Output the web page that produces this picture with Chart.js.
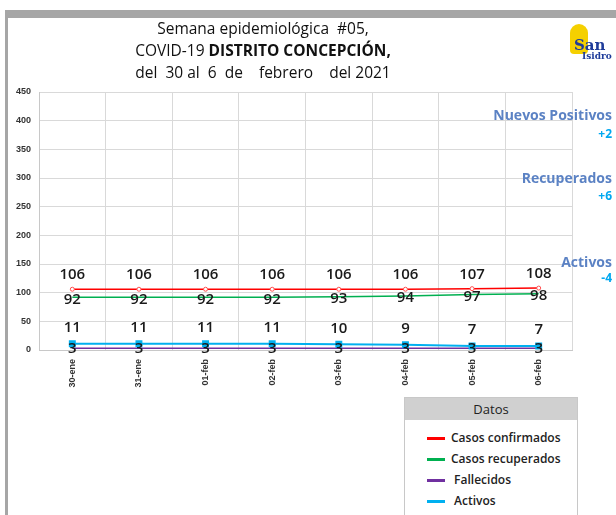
<!DOCTYPE html>
<html>
<head>
<meta charset="utf-8">
<script src="https://cdn.jsdelivr.net/npm/chart.js@4.4.1/dist/chart.umd.min.js"></script>
<style>
  body { margin: 0; background: #fff; font-family: "Open Sans", sans-serif; }
  #wrap { position: relative; width: 616px; height: 515px; overflow: hidden; }
  #topbar { position: absolute; left: 5px; top: 10px; width: 611px; height: 8px; background: #a6a6a6; }
  #leftbar { position: absolute; left: 5px; top: 10px; width: 3px; height: 505px; background: #a6a6a6; }
  canvas { position: absolute; left: 0; top: 0; }
  .title { position: absolute; left: 63px; width: 400px; text-align: center; font-size: 15.5px; color: #111; }
  .note { position: absolute; right: 4px; text-align: right; font-weight: bold; font-size: 14px; color: #5b82c4; }
  .delta { position: absolute; right: 4px; text-align: right; font-weight: bold; font-size: 12px; color: #00a8f0; }
  #legend { position: absolute; left: 404px; top: 397px; width: 172px; height: 130px; border: 1px solid #c8c8c8; background: #fff; }
  #legend .head { height: 22px; background: #d0d0d0; text-align: center; font-size: 13px; line-height: 22px; color: #222; }
  .item { position: absolute; left: 22px; font-size: 12px; font-weight: 600; color: #222; }
  .item span { display: inline-block; width: 18px; height: 3px; vertical-align: middle; margin-right: 6px; }
  #logo { position: absolute; left: 566px; top: 24px; width: 40px; height: 40px; }
</style>
</head>
<body>
<div id="wrap">
  <div id="topbar"></div>
  <div id="leftbar"></div>
  <canvas id="chart" width="616" height="515"></canvas>
  <div class="title" style="top:17px">Semana epidemiológica&nbsp; #05,</div>
  <div class="title" style="top:39px">COVID-19 <b>DISTRITO CONCEPCIÓN,</b></div>
  <div class="title" style="top:61px">del&nbsp; 30 al&nbsp; 6&nbsp; de&nbsp;&nbsp;&nbsp; febrero&nbsp;&nbsp;&nbsp; del 2021</div>
  <div id="logo">
    <div style="position:absolute;left:4px;top:0;width:18px;height:30px;border-radius:9px 9px 4px 4px;background:#f5d000;"></div>
    <div style="position:absolute;left:8px;top:12px;font:bold 15px 'DejaVu Serif',serif;color:#1f3c9a;">San</div>
    <div style="position:absolute;left:16px;top:27px;font:bold 9px 'DejaVu Serif',serif;color:#1f3c9a;">Isidro</div>
  </div>
  <div class="note" style="top:105px">Nuevos Positivos</div>
  <div class="delta" style="top:125px">+2</div>
  <div class="note" style="top:168px">Recuperados</div>
  <div class="delta" style="top:187px">+6</div>
  <div class="note" style="top:252px">Activos</div>
  <div class="delta" style="top:269px">-4</div>
  <div id="legend">
    <div class="head">Datos</div>
    <div class="item" style="top:31px"><span style="background:#ff0000"></span>Casos confirmados</div>
    <div class="item" style="top:52px"><span style="background:#00b050"></span>Casos recuperados</div>
    <div class="item" style="top:73px"><span style="background:#7030a0"></span> Fallecidos</div>
    <div class="item" style="top:94px"><span style="background:#00b0f0"></span> Activos</div>
  </div>
</div>
<script>
// datos de la semana
const fechas = ['30-ene', '31-ene', '01-feb', '02-feb', '03-feb', '04-feb', '05-feb', '06-feb'];
const confirmados = [106, 106, 106, 106, 106, 106, 107, 108];
const recuperados = [92, 92, 92, 92, 93, 94, 97, 98];
const fallecidos = [3, 3, 3, 3, 3, 3, 3, 3];
const activos = [11, 11, 11, 11, 10, 9, 7, 7];

// etiquetas de valores: dy = desplazamiento vertical del texto respecto al punto
const etiquetas = {
    id: 'etiquetas',
    afterDatasetsDraw(chart) {
        const ctx = chart.ctx;
        ctx.save();
        ctx.font = '600 15px "Open Sans", sans-serif';
        ctx.fillStyle = '#1a1a1a';
        ctx.textAlign = 'center';
        ctx.textBaseline = 'middle';
        chart.data.datasets.forEach((ds, i) => {
            const meta = chart.getDatasetMeta(i);
            meta.data.forEach((pt, j) => {
                ctx.fillText(ds.data[j], pt.x, pt.y + ds.dy);
            });
        });
        ctx.restore();
    }
};

const ctx = document.getElementById('chart').getContext('2d');
new Chart(ctx, {
    type: 'line',
    data: {
        labels: fechas,
        datasets: [
            { label: 'Casos confirmados', data: confirmados, borderColor: '#ff0000', borderWidth: 1.5,
              pointRadius: 2, pointBackgroundColor: '#fff', pointBorderColor: '#ff5050', pointBorderWidth: 1, dy: -14 },
            { label: 'Casos recuperados', data: recuperados, borderColor: '#00b050', borderWidth: 1.5,
              pointRadius: 0, dy: 2 },
            { label: 'Activos', data: activos, borderColor: '#00b0f0', borderWidth: 2,
              pointStyle: 'rect', pointRadius: 3.5, pointBackgroundColor: '#00b0f0', pointBorderColor: '#00b0f0', dy: -16 },
            { label: 'Fallecidos', data: fallecidos, borderColor: '#7030a0', borderWidth: 1.5,
              pointRadius: 0, dy: 0 }
        ]
    },
    options: {
        responsive: false,
        animation: false,
        layout: { padding: { top: 92, right: 44, bottom: 120, left: 0 } },
        plugins: {
            legend: { display: false },
            tooltip: { enabled: false }
        },
        scales: {
            y: {
                min: 0, max: 450,
                afterFit: s => { s.width = 39; },
                ticks: { stepSize: 50, color: '#333', font: { size: 9, weight: 'bold' }, padding: 8 },
                grid: { color: '#d9d9d9', tickLength: 0 },
                border: { color: '#c8c8c8' }
            },
            x: {
                offset: true,
                afterFit: s => { s.height = 45; },
                ticks: { minRotation: 90, maxRotation: 90, color: '#333', font: { size: 9, weight: 'bold' }, padding: 9 },
                grid: { color: '#d9d9d9', offset: true, tickLength: 0 },
                border: { color: '#c8c8c8' }
            }
        }
    },
    plugins: [etiquetas]
});
</script>
</body>
</html>
